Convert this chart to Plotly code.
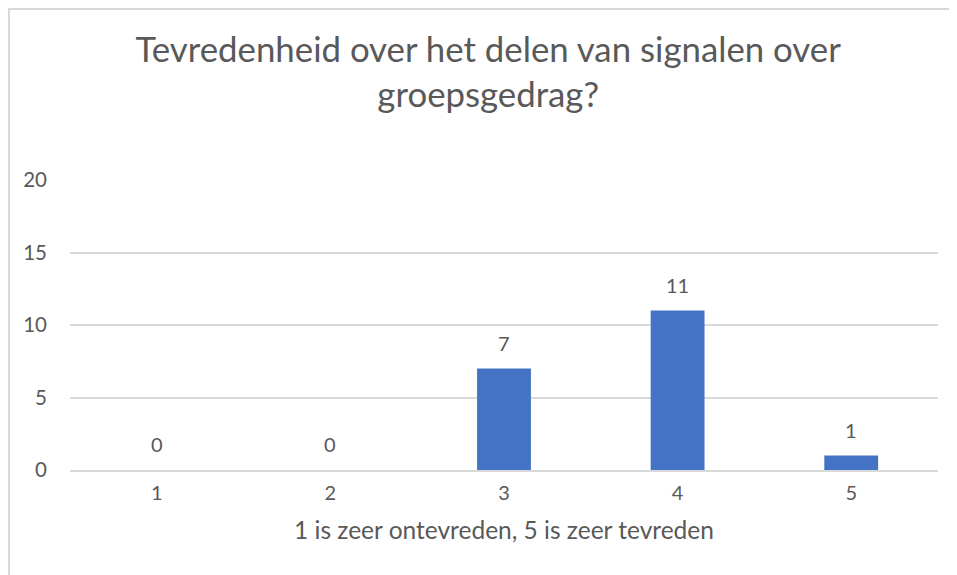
import plotly.graph_objects as go

categories = ["1", "2", "3", "4", "5"]
values = [0, 0, 7, 11, 1]
y_ticks = [0, 5, 10, 15, 20]

# page has an 8px body margin, so the figure is sized/positioned to compensate
W, H = 949, 567
L, R, T, B = 62, 19, 172, 105
PW, PH = W - L - R, H - T - B
FONT = "Lato"
GRAY = "#595959"
BORDER = "#D9D9D9"

fig = go.Figure(
    go.Bar(
        x=categories,
        y=values,
        marker=dict(color="#4472C4", line=dict(width=0)),
        width=0.31,
        hoverinfo="x+y",
    )
)

# on a category axis, annotation x is the category index
annotations = [
    dict(x=i, y=v, xref="x", yref="y", text=str(v), showarrow=False,
         yanchor="middle", yshift=26,
         font=dict(family=FONT, size=20, color=GRAY))
    for i, v in enumerate(values)
]

fig.update_layout(
    width=W,
    height=H,
    paper_bgcolor="white",
    plot_bgcolor="white",
    margin=dict(l=L, r=R, t=T, b=B, autoexpand=False),
    title=dict(
        text="Tevredenheid over het delen van signalen over<br>groepsgedrag?",
        font=dict(family=FONT, size=34.8, color=GRAY),
        x=0.506,
        xanchor="center",
        y=1 - 54 / H,
        yanchor="top",
    ),
    showlegend=False,
    font=dict(family=FONT, color=GRAY),
    annotations=annotations,
    shapes=[
        dict(type="line", xref="paper", yref="paper",
             x0=-L / PW, x1=1 + (R + 5) / PW,
             y0=1 + (T - 1) / PH, y1=1 + (T - 1) / PH,
             line=dict(color=BORDER, width=2)),
        dict(type="line", xref="paper", yref="paper",
             x0=-(L - 1) / PW, x1=-(L - 1) / PW,
             y0=1 + (T - 1) / PH, y1=-(B + 5) / PH,
             line=dict(color=BORDER, width=2)),
    ],
)

fig.update_xaxes(
    type="category",
    range=[-0.5, len(categories) - 0.5],
    showgrid=False,
    showline=True,
    linecolor=BORDER,
    linewidth=1.5,
    ticks="",
    tickfont=dict(family=FONT, size=20, color=GRAY),
    ticklabelstandoff=4,
    title=dict(text="1 is zeer ontevreden, 5 is zeer tevreden",
               font=dict(family=FONT, size=24.5, color=GRAY), standoff=19),
)
fig.update_yaxes(
    range=[0, 20],
    tickvals=y_ticks,
    showgrid=True,
    gridcolor=BORDER,
    gridwidth=1.5,
    zeroline=False,
    showline=False,
    ticks="",
    tickfont=dict(family=FONT, size=20.5, color=GRAY),
    ticklabelstandoff=22,
)

fig.write_html("out.html")
